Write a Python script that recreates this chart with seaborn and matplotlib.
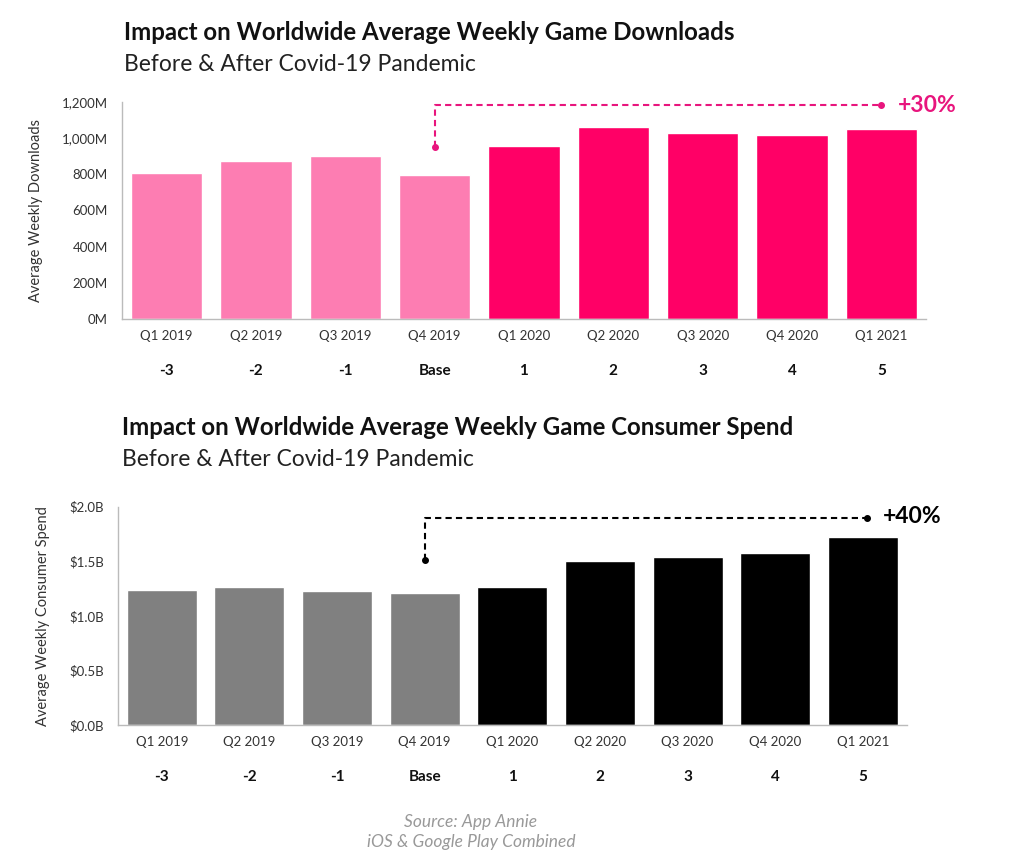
import matplotlib
matplotlib.use("Agg")
import matplotlib.pyplot as plt
import seaborn as sns
import pandas as pd
from matplotlib.ticker import FuncFormatter

# chart data
quarters = ["Q1 2019", "Q2 2019", "Q3 2019", "Q4 2019", "Q1 2020",
            "Q2 2020", "Q3 2020", "Q4 2020", "Q1 2021"]
periods = ["-3", "-2", "-1", "Base", "1", "2", "3", "4", "5"]
downloads_m = [805, 871, 902, 796, 956, 1060, 1029, 1016, 1048]
spend_b = [1.24, 1.26, 1.23, 1.21, 1.26, 1.50, 1.54, 1.58, 1.72]
downloads_growth = "+30%"
spend_growth = "+40%"

pink_light = "#FD7DB2"
pink_dark = "#FF0066"
pink_text = "#E8157D"
gray = "#808080"
black = "#000000"

sns.set_theme(style="white")
plt.rcParams["font.family"] = ["Lato", "DejaVu Sans"]

fig = plt.figure(figsize=(10.24, 8.58), dpi=100)
ax1 = fig.add_axes([0.1191, 0.6279, 0.7852, 0.2536])
ax2 = fig.add_axes([0.1152, 0.1550, 0.7702, 0.2544])

df1 = pd.DataFrame({"quarter": quarters, "value": downloads_m})
df2 = pd.DataFrame({"quarter": quarters, "value": spend_b})

pal1 = [pink_light] * 4 + [pink_dark] * 5
pal2 = [gray] * 4 + [black] * 5

sns.barplot(data=df1, x="quarter", y="value", hue="quarter", palette=pal1,
            legend=False, width=0.8, saturation=1, ax=ax1)
sns.barplot(data=df2, x="quarter", y="value", hue="quarter", palette=pal2,
            legend=False, width=0.8, saturation=1, ax=ax2)

ax1.set_ylim(0, 1200)
ax1.set_yticks(range(0, 1201, 200))
ax1.yaxis.set_major_formatter(FuncFormatter(lambda v, p: f"{int(v):,}M"))
ax2.set_ylim(0, 2.0)
ax2.set_yticks([0, 0.5, 1.0, 1.5, 2.0])
ax2.yaxis.set_major_formatter(FuncFormatter(lambda v, p: f"${v:.1f}B"))

for ax, ylab in [(ax1, "Average Weekly Downloads"), (ax2, "Average Weekly Consumer Spend")]:
    ax.set_xlim(-0.5, len(quarters) - 0.5)
    ax.set_xlabel("")
    ax.set_ylabel(ylab, fontsize=10.5, color="#333333", labelpad=14)
    for s in ["top", "right"]:
        ax.spines[s].set_visible(False)
    for s in ["left", "bottom"]:
        ax.spines[s].set_color("#BBBBBB")
        ax.spines[s].set_linewidth(1.0)
    ax.tick_params(axis="y", length=0, pad=10, labelsize=9.5, labelcolor="#333333")
    ax.tick_params(axis="x", length=0, pad=8, labelsize=9.5, labelcolor="#333333")
    ax.set_xticks([i + 0.5 for i in range(len(quarters))], minor=True)
    ax.tick_params(axis="x", which="minor", length=5, color="#BBBBBB", width=1)
    for i, p in enumerate(periods):
        ax.text(i, -0.24, p, transform=ax.get_xaxis_transform(), ha="center",
                va="center", fontsize=11, fontweight="bold", color="#111111")

# growth annotations (Base -> Q1 2021)
ax1.plot([3, 3, 8], [952, 1181, 1181], ls=(0, (3, 2)), lw=1.5,
         color=pink_text, clip_on=False)
ax1.plot([3, 8], [952, 1181], "o", ms=4, color=pink_text, clip_on=False)
ax1.annotate(downloads_growth, xy=(8, 1181), xytext=(12, 0), textcoords="offset points",
             ha="left", va="center", fontsize=16.5, fontweight="bold", color=pink_text,
             annotation_clip=False)

ax2.plot([3, 3, 8.05], [1.51, 1.9, 1.9], ls=(0, (3, 2)), lw=1.5, color=black, clip_on=False)
ax2.plot([3, 8.05], [1.51, 1.9], "o", ms=4, color=black, clip_on=False)
ax2.annotate(spend_growth, xy=(8.05, 1.9), xytext=(11, 1), textcoords="offset points",
             ha="left", va="center", fontsize=16.5, fontweight="bold", color=black,
             annotation_clip=False)

# titles
fig.text(0.121, 0.962, "Impact on Worldwide Average Weekly Game Downloads",
         fontsize=17.3, fontweight="bold", color="#111111", va="center")
fig.text(0.121, 0.925, "Before & After Covid-19 Pandemic",
         fontsize=16.5, color="#222222", va="center")
fig.text(0.119, 0.502, "Impact on Worldwide Average Weekly Game Consumer Spend",
         fontsize=17.3, fontweight="bold", color="#111111", va="center")
fig.text(0.119, 0.465, "Before & After Covid-19 Pandemic",
         fontsize=16.5, color="#222222", va="center")

fig.text(0.46, 0.042, "Source: App Annie", fontsize=12.5, style="italic",
         color="#999999", ha="center", va="center")
fig.text(0.46, 0.019, "iOS & Google Play Combined", fontsize=12.5, style="italic",
         color="#999999", ha="center", va="center")

fig.savefig("out.png", dpi=100)
